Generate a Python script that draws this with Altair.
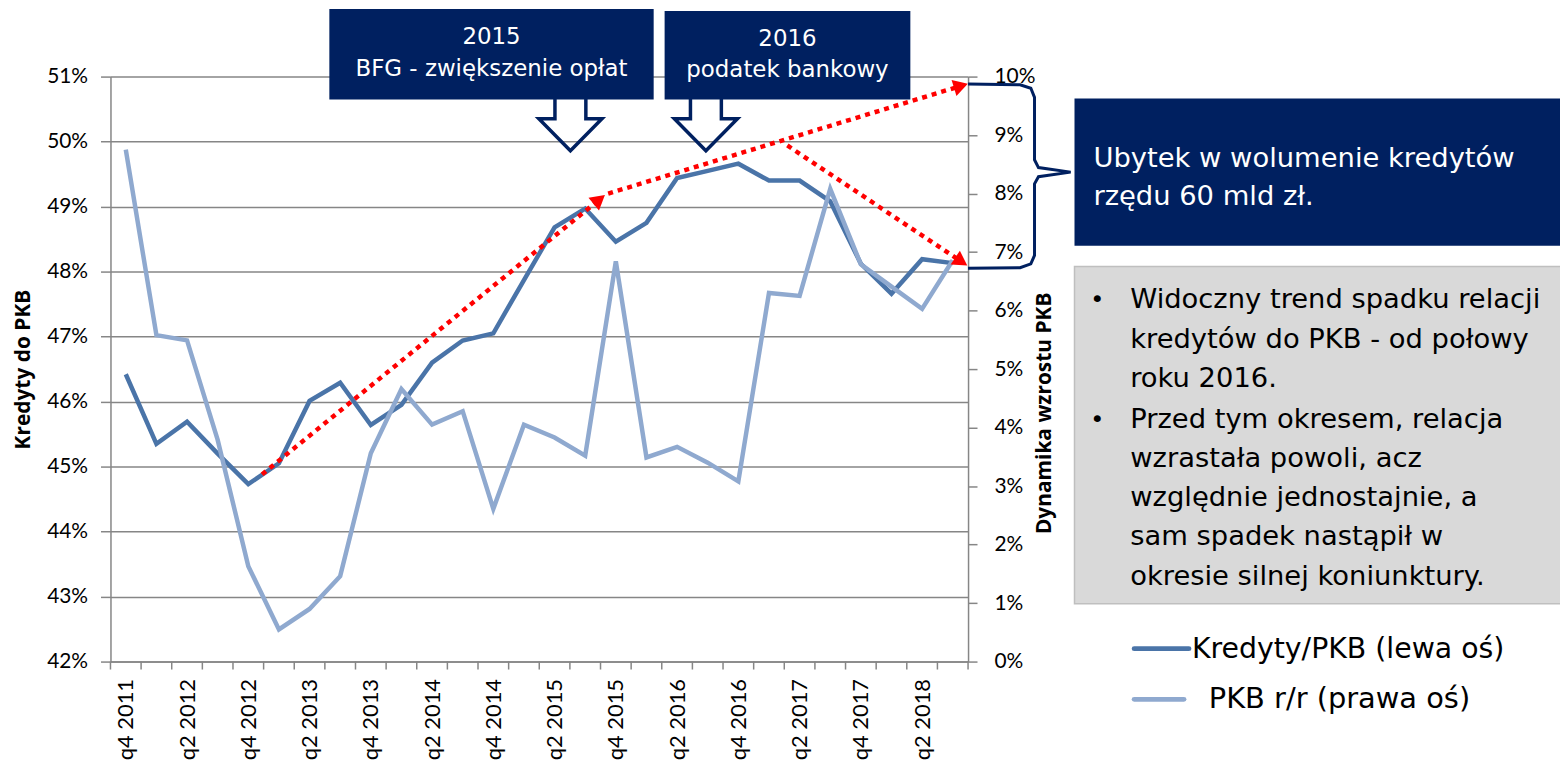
import math
import altair as alt
import pandas as pd

# ---------------- data ----------------
quarters = ["q4 2011", "q1 2012", "q2 2012", "q3 2012", "q4 2012", "q1 2013", "q2 2013",
            "q3 2013", "q4 2013", "q1 2014", "q2 2014", "q3 2014", "q4 2014", "q1 2015",
            "q2 2015", "q3 2015", "q4 2015", "q1 2016", "q2 2016", "q3 2016", "q4 2016",
            "q1 2017", "q2 2017", "q3 2017", "q4 2017", "q1 2018", "q2 2018", "q3 2018"]
kredyty_pkb = [46.42, 45.35, 45.69, 45.20, 44.73, 45.05, 46.01, 46.29, 45.64, 45.95,
               46.60, 46.94, 47.05, 47.87, 48.68, 48.97, 48.46, 48.75, 49.44, 49.55,
               49.66, 49.40, 49.40, 49.08, 48.12, 47.66, 48.19, 48.13]
pkb_rr = [8.75, 5.58, 5.49, 3.79, 1.63, 0.55, 0.90, 1.46, 3.56, 4.66,
          4.05, 4.28, 2.61, 4.05, 3.83, 3.52, 6.84, 3.49, 3.67, 3.40,
          3.08, 6.30, 6.25, 8.08, 6.79, 6.41, 6.03, 6.86]

# red dotted trend arrows (start -> tip), x in quarter units, y on left axis (%)
trend_x0 = [4.95, 16.25, 22.1]
trend_y0 = [44.88, 49.20, 49.94]
trend_x1 = [16.15, 28.0, 27.98]
trend_y1 = [49.18, 50.89, 48.09]

# curly brace on the right axis (x in quarter units, y on left axis %)
brace_x = [28.0, 29.7, 30.05, 30.17, 30.17, 30.3, 31.35, 30.3, 30.17, 30.17, 30.05, 29.7, 28.0]
brace_y = [50.885, 50.875, 50.82, 50.68, 49.72, 49.6, 49.53, 49.46, 49.35, 48.25, 48.12, 48.06, 48.05]

title_left = "Kredyty do PKB"
title_right = "Dynamika wzrostu PKB"
box1_text = ["2015", "BFG - zwiększenie opłat"]
box2_text = ["2016", "podatek bankowy"]
box3_text = ["Ubytek w wolumenie kredytów", "rzędu 60 mld zł."]
bullet1_text = ["Widoczny trend spadku relacji", "kredytów do PKB - od połowy", "roku 2016."]
bullet2_text = ["Przed tym okresem, relacja", "wzrastała powoli, acz", "względnie jednostajnie, a",
                "sam spadek nastąpił w", "okresie silnej koniunktury."]
legend1 = "Kredyty/PKB (lewa oś)"
legend2 = "PKB r/r (prawa oś)"

# ---------------- styling ----------------
W, H = 862, 588
DARK = "#4A74A8"
LIGHT = "#8FA9CF"
NAVY = "#002060"
GRID = "#868686"
RED = "#FF0000"

n = len(quarters)
df = pd.DataFrame({
    "x": [i + 0.5 for i in range(n)],
    "q": quarters,
    "kred": kredyty_pkb,
    "pkb": pkb_rr,
})

label_expr = "[" + ",".join("'" + q + "'" for q in quarters) + "][floor(datum.value)]"
xs = alt.Scale(domain=[0, n], nice=False, zero=False)
xaxis = alt.Axis(values=[i + 0.5 for i in range(0, n, 2)], labelExpr=label_expr,
                 labelAngle=-90, labelFont="Lato", labelFontSize=22, labelColor="#000000",
                 labelPadding=17, ticks=False, tickSize=0, grid=False, domainColor=GRID,
                 domainWidth=1.5, title=None, labelOverlap=False, labelFlush=False)
X = alt.X("x:Q", scale=xs, axis=xaxis)

left_scale = alt.Scale(domain=[42, 51], nice=False, zero=False)
right_scale = alt.Scale(domain=[0, 10], nice=False, zero=False)

left_axis = alt.Axis(values=list(range(42, 52)), labelExpr="datum.value + '%'",
                     labelFont="Lato", labelFontSize=21, labelColor="#000000",
                     tickSize=10, tickColor=GRID, tickWidth=1.5, labelPadding=13,
                     domainColor=GRID, domainWidth=1.5, grid=True, gridColor=GRID,
                     gridWidth=1.5, title=title_left, titleFont="Open Sans",
                     titleFontWeight="bold", titleFontSize=21, titleColor="#000000",
                     titleX=-87, titleY=294, titleAngle=270, titleAlign="center",
                     titleBaseline="middle")
right_axis = alt.Axis(orient="right", values=list(range(0, 11)), labelExpr="datum.value + '%'",
                      labelFont="Lato", labelFontSize=21, labelColor="#000000",
                      tickSize=9, tickColor=GRID, tickWidth=1.5, labelPadding=17,
                      domainColor=GRID, domainWidth=1.5, grid=False, title=title_right,
                      titleFont="Open Sans", titleFontWeight="bold", titleFontSize=21,
                      titleColor="#000000", titleX=77, titleY=338, titleAngle=270,
                      titleAlign="center", titleBaseline="middle")

one = pd.DataFrame({"a": [0]})

# tick marks at quarter boundaries
ticks = alt.Chart(pd.DataFrame({"x": list(range(n + 1))})).mark_rule(
    color=GRID, strokeWidth=1.5).encode(x=X, y=alt.value(H), y2=alt.value(H + 8))

dark = alt.Chart(df).mark_line(color=DARK, strokeWidth=4.5).encode(
    x=X, y=alt.Y("kred:Q", scale=left_scale, axis=left_axis))
light = alt.Chart(df).mark_line(color=LIGHT, strokeWidth=4.5).encode(
    x=X, y=alt.Y("pkb:Q", scale=right_scale, axis=right_axis))

# red arrows
pxx, pxy = W / n, H / 9.0
seg_rows = []
head_layers = []
for k in range(len(trend_x0)):
    x0, y0, x1, y1 = trend_x0[k], trend_y0[k], trend_x1[k], trend_y1[k]
    dx, dy = (x1 - x0) * pxx, (y1 - y0) * pxy
    L = math.hypot(dx, dy)
    ux, uy = dx / L, dy / L
    back = 7.5
    hx, hy = x1 - ux * back / pxx, y1 - uy * back / pxy
    ang = (90 - math.degrees(math.atan2(dy, dx))) % 360
    seg_rows.append({"x": x0, "v": y0, "s": k})
    seg_rows.append({"x": hx, "v": hy, "s": k})
    head_layers.append(
        alt.Chart(pd.DataFrame({"x": [hx], "v": [hy]})).mark_point(
            shape="triangle-up", filled=True, color=RED, size=280, opacity=1, angle=ang
        ).encode(x=X, y=alt.Y("v:Q", scale=left_scale, axis=None))
    )
red = alt.Chart(pd.DataFrame(seg_rows)).mark_line(
    color=RED, strokeWidth=4.5, strokeDash=[5, 5]).encode(
    x=X, y=alt.Y("v:Q", scale=left_scale, axis=None), detail="s:N")

brace = alt.Chart(pd.DataFrame({"x": brace_x, "v": brace_y, "o": list(range(len(brace_x)))})).mark_line(
    color=NAVY, strokeWidth=3).encode(
    x=X, y=alt.Y("v:Q", scale=left_scale, axis=None), order="o:Q")

# hollow down arrows
arrow_path = "M -0.49 -0.95 L 0.49 -0.95 L 0.49 -0.19 L 1 -0.19 L 0 0.82 L -1 -0.19 L -0.49 -0.19 Z"
def hollow_arrow(cx):
    return alt.Chart(one).mark_point(shape=arrow_path, filled=False, color=NAVY, strokeWidth=3.5,
                                     size=4020, opacity=1).encode(x=alt.value(cx), y=alt.value(48.5))
arrows = [hollow_arrow(462.3), hollow_arrow(598.5)]

def box(x1, x2, y1, y2, fill, stroke=None):
    kw = {"color": fill}
    if stroke:
        kw.update(stroke=stroke, strokeWidth=1.5)
    return alt.Chart(one).mark_rect(**kw).encode(
        x=alt.value(x1), x2=alt.value(x2), y=alt.value(y1), y2=alt.value(y2))

def txt(lines, x, y, size, color, align="left", lh=None, font="DejaVu Sans"):
    kw = dict(font=font, fontSize=size, color=color, align=align, baseline="middle")
    if lh:
        kw["lineHeight"] = lh
    return alt.Chart(one).mark_text(**kw).encode(
        x=alt.value(x), y=alt.value(y), text=alt.value(lines))

boxes = [
    box(220, 546, -68, 23, NAVY),
    box(557, 804, -66, 23, NAVY),
    box(969, 1460, 22, 170, NAVY),
    box(969, 1460, 191, 530, "#D9D9D9", "#BFBFBF"),
]
texts = [
    txt(box1_text, 383, -40, 23, "white", "center", 32),
    txt(box2_text, 680.5, -38, 23, "white", "center", 31),
    txt(box3_text, 988, 83, 27.5, "white", "left", 38),
    txt(bullet1_text, 1025, 225, 27.5, "#000000", "left", 39.4),
    txt(bullet2_text, 1025, 345, 27.5, "#000000", "left", 39.4),
    txt("•", 992, 225, 24, "#000000", "center"),
    txt("•", 992, 345, 24, "#000000", "center"),
]

legend = [
    alt.Chart(one).mark_rule(color=DARK, strokeWidth=5, strokeCap="round").encode(
        x=alt.value(1029), x2=alt.value(1084), y=alt.value(575)),
    alt.Chart(one).mark_rule(color=LIGHT, strokeWidth=5, strokeCap="round").encode(
        x=alt.value(1029), x2=alt.value(1079), y=alt.value(626)),
    txt(legend1, 1087, 575, 28.5, "#000000"),
    txt(legend2, 1104, 626, 29, "#000000"),
]

chart = alt.layer(
    ticks, dark, light, red, *head_layers, brace, *arrows, *boxes, *texts, *legend
).resolve_scale(y="independent").properties(
    width=W, height=H,
    autosize=alt.AutoSizeParams(type="none"),
    padding={"left": 103, "top": 67, "right": 595, "bottom": 97},
    background="white",
).configure_view(stroke=None)

chart.save("out.html", embed_options={"renderer": "svg", "actions": False})
